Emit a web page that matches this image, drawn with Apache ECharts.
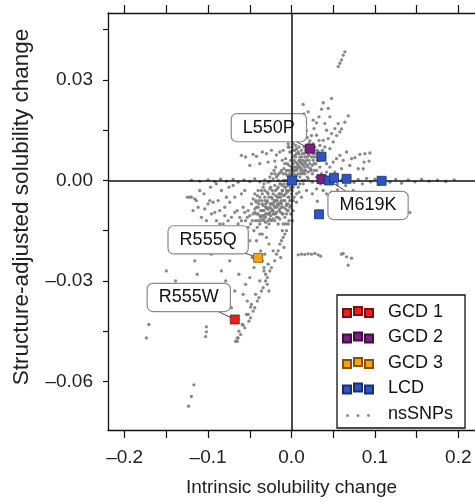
<!DOCTYPE html>
<html lang="en">
<head>
<meta charset="UTF-8">
<script src="https://cdn.jsdelivr.net/npm/echarts@6/dist/echarts.min.js"></script>
<style>
    html, body { margin: 0; padding: 0; background: #fff; }
    #chart { width: 475px; height: 502px; }
</style>
</head>
<body>
<div id="chart"></div>
<script>
// axis ticks and labels
var xTickVals = [-0.2, -0.15, -0.1, -0.05, 0, 0.05, 0.1, 0.15, 0.2];
var xLabelVals = [-0.2, -0.1, 0, 0.1, 0.2];
var xLabelText = ['–0.2', '–0.1', '0.0', '0.1', '0.2'];
var yTickVals = [-0.06, -0.045, -0.03, -0.015, 0, 0.015, 0.03, 0.045];
var yLabelVals = [-0.06, -0.03, 0, 0.03];
var yLabelText = ['–0.06', '–0.03', '0.00', '0.03'];

// disease mutations [intrinsic, structure-adjusted]
var gcd1 = [[-0.068, -0.0415]];
var gcd1Labels = ['R555W'];
var gcd2 = [[0.022, 0.0095], [0.036, 0.0004]];
var gcd2Labels = ['L550P', ''];
var gcd3 = [[-0.040, -0.0231]];
var gcd3Labels = ['R555Q'];
var lcd = [[0.036, 0.0071], [0.0007, 0.0000], [0.045, 0.0000], [0.051, 0.0008],
           [0.066, 0.0005], [0.108, -0.0001], [0.033, -0.0101]];
var lcdLabels = ['', '', 'M619K', '', '', '', ''];

var coreSnps = [
    [-0.002,0.001],[0.003,0.002],[-0.005,-0.001],[0.006,0.003],[-0.008,-0.002],[0.001,-0.003],[-0.011,-0.003],[0.009,0.004],
    [-0.004,0.003],[0.004,-0.001],[-0.014,-0.004],[0.012,0.005],[-0.007,0.002],[0.007,0.000],[-0.017,-0.005],[0.015,0.003],
    [-0.010,0.000],[0.002,0.005],[-0.020,-0.006],[0.018,0.006],[-0.003,-0.005],[0.010,0.001],[-0.013,-0.001],[0.005,0.007],
    [-0.023,-0.007],[0.020,0.004],[-0.006,-0.007],[0.013,0.008],[-0.016,-0.002],[0.000,0.004],[-0.026,-0.008],[0.024,0.007],
    [-0.009,-0.006],[0.016,0.002],[-0.019,-0.003],[-0.001,-0.002],[-0.029,-0.006],[0.022,0.009],[-0.012,-0.008],[0.008,-0.002],
    [-0.022,-0.004],[0.011,0.006],[-0.031,-0.010],[0.027,0.005],[-0.015,-0.009],[0.004,0.009],[-0.025,-0.002],[0.019,0.001],
    [-0.034,-0.009],[0.029,0.008],[-0.018,-0.011],[-0.028,-0.004],[0.014,-0.001],[-0.037,-0.011],[0.001,0.007],[-0.021,-0.010],
    [0.025,0.002],[-0.032,-0.005],[-0.040,-0.008],[0.031,0.006],[-0.024,-0.012],[0.017,0.009],[-0.036,-0.003],[-0.043,-0.012],
    [0.006,-0.004],[-0.027,-0.013],[0.034,0.004],[-0.039,-0.006],[-0.046,-0.010],[-0.030,-0.014],[0.021,0.011],[-0.008,0.005],
    [-0.033,-0.001],[-0.049,-0.013],[0.028,0.010],[-0.012,0.003],[-0.044,-0.004],[0.038,0.007],[-0.002,-0.008],[-0.052,-0.009],
    [0.009,0.010],[-0.015,0.002],[-0.041,-0.014],[0.033,0.012],[-0.055,-0.012],[-0.006,-0.010],[0.036,0.002],[-0.048,-0.007],
    [0.003,0.012],[-0.010,-0.013],[-0.058,-0.008],[0.040,0.010],[-0.020,0.002],[0.012,-0.005],[-0.035,-0.016],[0.042,0.005],
    [-0.062,-0.011],[-0.004,0.010],[-0.026,0.001],[0.018,-0.003],
    [0.000,0.000],[0.004,0.001],[-0.003,-0.003],[0.008,0.002],[-0.007,-0.004],[0.011,0.003],[-0.012,-0.006],[0.014,0.006],
    [-0.018,-0.008],[0.016,0.004],[-0.022,-0.009],[0.019,0.007],[-0.015,-0.007],[0.005,0.004],[-0.009,-0.001],[0.002,-0.001],
    [-0.001,0.003],[0.007,0.005],[-0.006,0.000],[0.010,0.007],[-0.028,-0.010],[0.023,0.003],[-0.033,-0.012],[0.026,0.008],
    [-0.038,-0.013],[0.003,0.006],[-0.016,0.000],[-0.024,-0.005],[0.013,0.002],[-0.030,-0.008],[0.006,0.008],[-0.042,-0.010],
    [0.015,0.010],[-0.019,0.004],[-0.045,-0.015],[0.030,0.003],[-0.011,-0.010],[-0.035,-0.007],[0.001,0.010],[-0.052,-0.014],
    [-0.003,-0.012],[-0.005,-0.009],[-0.001,-0.006],[0.002,-0.009],[-0.003,0.010],[-0.002,0.0085],[-0.004,0.011],
    [-0.001,0.0015],[0.002,0.0030],[-0.004,-0.0015],[0.005,0.0015],[-0.006,-0.0030],[0.008,0.0045],[-0.009,-0.0045],
    [0.010,0.0055],[-0.012,-0.0040],[0.012,0.0035],[-0.013,-0.0065],[0.014,0.0045],[-0.015,-0.0050],[0.016,0.0070],
    [-0.017,-0.0070],[0.017,0.0050],[-0.019,-0.0060],[0.020,0.0080],[-0.021,-0.0075],[0.021,0.0060],[-0.023,-0.0090],
    [0.023,0.0095],[-0.025,-0.0070],[0.025,0.0045],[-0.027,-0.0100],[0.027,0.0070],[-0.029,-0.0085],[0.029,0.0050],
    [-0.031,-0.0070],[0.031,0.0090],[-0.033,-0.0105],[0.032,0.0065],[-0.036,-0.0090],[0.035,0.0080],[-0.038,-0.0105],
    [-0.040,-0.0120],[-0.042,-0.0065],[-0.044,-0.0085],[-0.047,-0.0120],[-0.050,-0.0105],[-0.053,-0.0110],[-0.056,-0.0095],
    [-0.007,0.0065],[-0.005,0.0050],[-0.009,0.0035],[-0.011,0.0060],[0.000,0.0085],[0.002,0.0110],[0.004,0.0135],
    [0.007,0.0120],[0.011,0.0130],[0.005,0.0105],[0.008,0.0085],[-0.014,-0.0115],[-0.008,-0.0110],[-0.004,-0.0070],
    [0.003,-0.0050],[0.006,-0.0065],[0.009,-0.0035],[-0.001,-0.0100],[-0.020,-0.0120],[-0.026,-0.0115],[-0.031,-0.0125],
    [-0.016,-0.0130],[-0.011,-0.0150],[-0.007,-0.0130],[0.001,-0.0120],[0.010,-0.0010],[0.013,0.0000],[0.016,0.0000],
    [-0.018,0.0010],[-0.022,0.0005],[-0.028,-0.0005],[-0.034,-0.0020],[-0.040,-0.0030],[-0.046,-0.0055]
];
var denseSnps = [
    [-0.044,-0.0095],[-0.042,-0.0080],[-0.040,-0.0100],[-0.039,-0.0070],[-0.037,-0.0090],[-0.036,-0.0060],[-0.035,-0.0105],
    [-0.034,-0.0075],[-0.033,-0.0090],[-0.032,-0.0060],[-0.031,-0.0080],[-0.030,-0.0100],[-0.029,-0.0065],[-0.028,-0.0085],
    [-0.027,-0.0050],[-0.026,-0.0095],[-0.025,-0.0070],[-0.024,-0.0085],[-0.023,-0.0055],[-0.022,-0.0100],[-0.021,-0.0065],
    [-0.020,-0.0080],[-0.019,-0.0045],[-0.018,-0.0095],[-0.017,-0.0060],[-0.016,-0.0075],[-0.015,-0.0040],[-0.014,-0.0085],
    [-0.013,-0.0050],[-0.012,-0.0070],[-0.011,-0.0030],[-0.010,-0.0080],[-0.009,-0.0045],[-0.008,-0.0060],[-0.007,-0.0020],
    [-0.006,-0.0075],[-0.005,-0.0035],[-0.004,-0.0050],[-0.003,-0.0010],[-0.002,-0.0060],[-0.001,-0.0025],[0.000,-0.0040],
    [0.001,0.0010],[0.002,-0.0020],[0.003,0.0000],[0.004,0.0030],[0.005,-0.0010],[0.006,0.0015],
    [-0.043,-0.0060],[-0.041,-0.0045],[-0.038,-0.0050],[-0.035,-0.0040],[-0.032,-0.0030],[-0.029,-0.0035],[-0.026,-0.0025],
    [-0.023,-0.0030],[-0.020,-0.0015],[-0.017,-0.0025],[-0.014,-0.0010],[-0.011,-0.0015],[-0.008,0.0000],[-0.005,0.0015],
    [-0.002,0.0020],[0.001,0.0035],
    [-0.037,-0.0120],[-0.034,-0.0115],[-0.031,-0.0110],[-0.028,-0.0120],[-0.025,-0.0105],[-0.022,-0.0115],[-0.019,-0.0100],
    [-0.016,-0.0110],[-0.013,-0.0095],[-0.010,-0.0100],[-0.007,-0.0085],[-0.004,-0.0090],[-0.001,-0.0075],[0.002,-0.0060],
    [-0.024,0.0020],[-0.021,0.0030],[-0.017,0.0015],[-0.013,0.0025],[-0.010,0.0020],[-0.006,0.0030],[-0.003,0.0045],
    [-0.001,0.0060],
    [0.003,0.0040],[0.005,0.0055],[0.007,0.0035],[0.009,0.0060],[0.010,0.0040],[0.012,0.0070],[0.013,0.0050],[0.015,0.0080],
    [0.016,0.0055],[0.018,0.0085],[0.019,0.0045],[0.021,0.0075],[0.022,0.0050],[0.024,0.0085],[0.026,0.0060],[0.028,0.0090],
    [0.030,0.0070],[0.032,0.0085],[0.034,0.0060],[0.037,0.0090],[0.039,0.0075],[0.006,0.0095],[0.009,0.0080],[0.012,0.0090],
    [0.004,0.0075],[0.002,0.0090],[0.011,0.0020],[0.014,0.0025],[0.017,0.0030],[0.020,0.0025],[0.023,0.0035],[0.027,0.0030]
];
var leftWingSnps = [
    [-0.125,-0.005],[-0.120,-0.005],[-0.116,-0.0055],[-0.110,-0.003],[-0.105,-0.004],[-0.112,-0.008],[-0.100,-0.007],
    [-0.096,-0.010],[-0.092,-0.0095],[-0.088,-0.006],[-0.084,-0.003],[-0.080,-0.008],[-0.076,-0.012],[-0.072,-0.011],
    [-0.068,-0.005],[-0.065,-0.009],[-0.062,-0.014],[-0.058,-0.015],[-0.075,-0.002],[-0.070,-0.0015],[-0.086,-0.013],
    [-0.082,-0.013],[-0.060,-0.004],[-0.056,-0.003],[-0.053,-0.016],[-0.050,-0.018],[-0.066,-0.017],[-0.071,-0.019],
    [-0.078,-0.016],[-0.094,-0.015],[-0.102,-0.012],[-0.108,-0.011],[-0.118,-0.009],[-0.090,-0.001],[-0.097,-0.002],
    [-0.060,0.0075],[-0.055,0.007],[-0.046,0.0078],[-0.042,0.0072],[-0.035,0.0085],[-0.030,0.008],[-0.024,0.0090],
    [-0.018,0.0076],[-0.014,0.0085],[-0.050,0.0045],[-0.038,0.005],[-0.028,0.0055],[-0.020,0.0058],[-0.010,0.009],[-0.006,0.012],
    [-0.122,-0.0050],[-0.114,-0.0060],[-0.098,-0.0060],[-0.094,-0.0065],[-0.086,-0.0090],[-0.078,-0.0050],[-0.074,-0.0065],
    [-0.064,-0.0130],[-0.060,-0.0120],[-0.068,-0.0095],[-0.090,-0.0120],[-0.104,-0.0085],[-0.080,-0.0105],[-0.070,-0.0140]
];
var tailSnps = [
    [-0.004,-0.013],[-0.006,-0.015],[-0.008,-0.016],[-0.010,-0.017],[-0.012,-0.018],[-0.009,-0.020],[-0.014,-0.019],
    [-0.016,-0.021],[-0.013,-0.023],[-0.018,-0.022],[-0.020,-0.024],[-0.022,-0.021],[-0.024,-0.026],[-0.026,-0.027],
    [-0.028,-0.025],[-0.029,-0.029],[-0.031,-0.030],[-0.033,-0.027],[-0.034,-0.032],[-0.036,-0.033],[-0.038,-0.030],
    [-0.039,-0.035],[-0.041,-0.036],[-0.043,-0.034],[-0.044,-0.038],[-0.046,-0.039],[-0.048,-0.037],[-0.049,-0.041],
    [-0.051,-0.042],[-0.054,-0.040],[-0.056,-0.044],[-0.059,-0.043],[-0.061,-0.046],[-0.063,-0.045],[-0.065,-0.047],
    [-0.067,-0.048],[-0.027,-0.019],[-0.032,-0.022],[-0.037,-0.021],[-0.045,-0.026],[-0.050,-0.029],[-0.055,-0.031],
    [-0.047,-0.023],[-0.058,-0.034],[-0.053,-0.036],[-0.042,-0.018],[-0.038,-0.016],[-0.030,-0.017],
    [-0.035,-0.024],[-0.033,-0.026],[-0.031,-0.028],[-0.029,-0.031],[-0.027,-0.033],
    [-0.150,-0.027],[-0.139,-0.030],[-0.116,-0.024],[-0.113,-0.028],[-0.120,-0.031],[-0.124,-0.032],[-0.084,-0.027],
    [-0.079,-0.030],[-0.074,-0.024],[-0.096,-0.022],[-0.068,-0.033],[-0.072,-0.038],[-0.063,-0.028]
];
var upperRightSnps = [
    [0.064,0.0384],[0.062,0.0374],[0.060,0.036],[0.058,0.035],[0.056,0.034],
    [0.038,0.0232],[0.036,0.0213],[0.033,0.019],[0.030,0.0172],[0.027,0.0155],[0.024,0.0134],[0.022,0.0118],
    [0.014,0.0227],[0.015,0.0199],[0.017,0.0172],[0.018,0.0149],[0.019,0.0128],
    [0.068,0.0193],[0.064,0.0174],[0.060,0.0154],[0.054,0.0134],[0.050,0.0115],[0.046,0.0095],
    [0.056,0.017],[0.058,0.0145],[0.052,0.0155],[0.048,0.0140],[0.044,0.0125],[0.042,0.0150],[0.040,0.0170],[0.046,0.019],
    [0.082,0.0078],[0.088,0.008],[0.094,0.0082],[0.087,0.0055],[0.093,0.0058],[0.080,0.0035],[0.086,0.0035],[0.072,0.0065],
    [0.076,0.0068],[0.066,0.0085],[0.070,0.0045],[0.062,0.006],[0.058,0.0075],[0.054,0.0065],[0.050,0.0055],[0.046,0.004],
    [0.042,0.0025],[0.052,0.0025],[0.060,0.0035],[0.030,0.0135],[0.026,0.011],[0.034,0.0105],[0.038,0.012],[0.010,0.015],
    [0.006,0.017],[0.012,0.019],[0.020,0.0205],[0.026,0.018],[0.048,0.0245],[0.044,0.0215]
];
var streakSnps = [
    [0.020,0.0005],[0.025,-0.0005],[0.030,0.001],[0.035,-0.001],[0.040,0.0005],[0.045,-0.0008],[0.050,0.0010],[0.055,-0.0012],
    [0.060,0.0002],[0.065,-0.0015],[0.070,0.0008],[0.075,-0.0006],[0.080,0.0003],[0.085,-0.0010],[0.090,0.0006],[0.095,-0.0004],
    [0.100,0.0004],[0.105,-0.0012],[0.112,0.0006],[0.118,-0.0005],[0.125,0.0003],[0.132,-0.0008],[0.140,0.0002],[0.148,-0.0004],
    [0.156,0.0003],[0.165,-0.0002],[0.175,0.0001],[0.185,-0.0003],[0.195,0.0002],
    [0.038,-0.003],[0.042,-0.004],[0.048,-0.0035],[0.055,-0.0028],[0.062,-0.0045],[0.068,-0.0035],[0.074,-0.003],[0.080,-0.0048],
    [0.031,-0.0062],[0.142,-0.0096],[0.025,-0.004],[0.030,-0.0025],
    [-0.100,0.0002],[-0.092,-0.0003],[-0.085,0.0004],[-0.078,-0.0002],[-0.070,0.0003],[-0.064,-0.0005],[-0.057,0.0002],
    [-0.050,-0.0003],[-0.044,0.0005],[-0.038,-0.0004],[-0.032,0.0002],[-0.026,-0.0002],[-0.120,0.0001],[-0.110,-0.0002],
    [0.008,-0.0222],[0.012,-0.0220],[0.016,-0.0221],[0.020,-0.0219],[0.024,-0.0220],[0.028,-0.0218],[0.032,-0.0222],
    [0.035,-0.0226],[0.060,-0.0220],[0.062,-0.0218],[0.066,-0.0228],[0.072,-0.0232],[0.068,-0.0253]
];
var outlierSnps = [
    [-0.174,-0.047],[-0.171,-0.043],[-0.102,-0.0437],[-0.102,-0.0452],[-0.103,-0.0466],[-0.117,-0.061],[-0.120,-0.0645],
    [-0.1235,-0.0674],[-0.064,-0.047],[-0.065,-0.048],[-0.058,-0.0432],[-0.049,-0.0378],[-0.052,-0.040]
];

var snps = coreSnps.concat(denseSnps, leftWingSnps, tailSnps, upperRightSnps, streakSnps, outlierSnps);

// label box offset from its point, in pixels
var labelOffsets = { 'L550P': [-41, -21], 'M619K': [39, 25], 'R555Q': [-50, -18], 'R555W': [-46, -22] };

// labelled mutations, taken from the groups above
var annotPoints = [];
var annotNames = [];
[[gcd1, gcd1Labels], [gcd2, gcd2Labels], [gcd3, gcd3Labels], [lcd, lcdLabels]].forEach(function (g) {
    g[0].forEach(function (p, i) {
        if (g[1][i]) { annotPoints.push(p); annotNames.push(g[1][i]); }
    });
});

function pickLabel(vals, texts, v) {
    for (var i = 0; i < vals.length; i++) {
        if (Math.abs(vals[i] - v) < 1e-9) return texts[i];
    }
    return '';
}

var squarePath = 'path://M0,2h8v8h-8z M11,0h8v8h-8z M22,2h8v8h-8z';
var dotsPath = 'path://M0,0 M30,10 M3,6.5a1.5,1.5 0 1,0 3,0a1.5,1.5 0 1,0 -3,0z M13.5,6.5a1.5,1.5 0 1,0 3,0a1.5,1.5 0 1,0 -3,0z M24,6.5a1.5,1.5 0 1,0 3,0a1.5,1.5 0 1,0 -3,0z';

var FONT = 'Liberation Sans';

function mutSeries(name, points, color, border) {
    return {
        name: name,
        type: 'scatter',
        symbol: 'rect',
        symbolSize: 9,
        z: 5,
        itemStyle: { color: color, borderColor: border, borderWidth: 0.8, opacity: 1 },
        data: points
    };
}

var chart = echarts.init(document.getElementById('chart'));

var option = {
    animation: false,
    backgroundColor: '#fff',
    grid: { left: 108, right: -1, top: 13, bottom: 67 },
    xAxis: [{
        type: 'value',
        min: -0.22,
        max: 0.22,
        name: 'Intrinsic solubility change',
        nameLocation: 'middle',
        nameGap: 48,
        nameTextStyle: { fontFamily: FONT, fontSize: 19, color: '#222' },
        axisLine: { onZero: false, lineStyle: { color: '#111', width: 1.3 } },
        axisTick: { inside: false, length: 8, customValues: xTickVals, lineStyle: { color: '#111', width: 1.2 } },
        axisLabel: {
            customValues: xLabelVals,
            margin: 18,
            fontFamily: FONT, fontSize: 19, color: '#222',
            formatter: function (v) { return pickLabel(xLabelVals, xLabelText, v); }
        },
        splitLine: { show: false }
    }, {
        type: 'value',
        position: 'top',
        min: -0.22,
        max: 0.22,
        axisLine: { onZero: false, lineStyle: { color: '#111', width: 1.3 } },
        axisTick: { length: 8, customValues: xTickVals, lineStyle: { color: '#111', width: 1.2 } },
        axisLabel: { show: false },
        splitLine: { show: false }
    }],
    yAxis: {
        type: 'value',
        min: -0.0745,
        max: 0.05,
        axisLine: { onZero: false, lineStyle: { color: '#111', width: 1.3 } },
        axisTick: { length: 5, customValues: yTickVals, lineStyle: { color: '#111', width: 1.2 } },
        axisLabel: {
            customValues: yLabelVals,
            margin: 15,
            fontFamily: FONT, fontSize: 19, color: '#222',
            formatter: function (v) { return pickLabel(yLabelVals, yLabelText, v); }
        },
        splitLine: { show: false }
    },
    graphic: [{
        type: 'text',
        x: 22,
        y: 207,
        rotation: Math.PI / 2,
        style: {
            text: 'Structure-adjusted solubility change',
            font: '22.5px "Liberation Sans"',
            fill: '#222',
            textAlign: 'center',
            textVerticalAlign: 'middle'
        }
    }],
    legend: {
        orient: 'vertical',
        left: 337,
        top: 295,
        padding: [8, 12, 5, 5],
        itemWidth: 30,
        itemHeight: 10,
        itemGap: 7.5,
        borderColor: '#111',
        borderWidth: 1.3,
        backgroundColor: '#fff',
        z: 10,
        textStyle: { fontFamily: FONT, fontSize: 18, color: '#111', lineHeight: 18, padding: [0, 0, 0, 10] },
        data: [
            { name: 'GCD 1', icon: squarePath },
            { name: 'GCD 2', icon: squarePath },
            { name: 'GCD 3', icon: squarePath },
            { name: 'LCD', icon: squarePath },
            { name: 'nsSNPs', icon: dotsPath }
        ]
    },
    series: [
        {
            name: 'nsSNPs',
            type: 'scatter',
            symbolSize: 3.3,
            z: 2,
            itemStyle: { color: '#7c7c7c', opacity: 0.9 },
            data: snps,
            markLine: {
                silent: true,
                symbol: 'none',
                label: { show: false },
                lineStyle: { color: '#111', width: 1.5, type: 'solid' },
                data: [{ xAxis: 0 }, { yAxis: 0 }]
            }
        },
        {
            name: 'labels',
            type: 'custom',
            coordinateSystem: 'cartesian2d',
            z: 4,
            silent: true,
            data: annotPoints,
            renderItem: function (params, api) {
                var pt = api.coord([api.value(0), api.value(1)]);
                var name = annotNames[params.dataIndex];
                var o = labelOffsets[name];
                var cx = pt[0] + o[0], cy = pt[1] + o[1];
                return {
                    type: 'group',
                    children: [{
                        type: 'line',
                        shape: { x1: pt[0], y1: pt[1], x2: cx, y2: cy },
                        style: { stroke: '#444', lineWidth: 1 }
                    }, {
                        type: 'text',
                        x: cx,
                        y: cy,
                        style: {
                            text: name,
                            font: '18px "Liberation Sans"',
                            fill: '#111',
                            align: 'center',
                            verticalAlign: 'middle',
                            backgroundColor: '#fff',
                            borderColor: '#8a8a8a',
                            borderWidth: 1.2,
                            borderRadius: 5,
                            padding: [5, 11, 4, 11]
                        }
                    }]
                };
            }
        },
        mutSeries('GCD 1', gcd1, '#e8211c', '#7a1010'),
        mutSeries('GCD 2', gcd2, '#7d1f80', '#3e0f40'),
        mutSeries('GCD 3', gcd3, '#f5a21b', '#8a5200'),
        mutSeries('LCD', lcd, '#2e55c0', '#1a2f72')
    ]
};

chart.setOption(option);
</script>
</body>
</html>
